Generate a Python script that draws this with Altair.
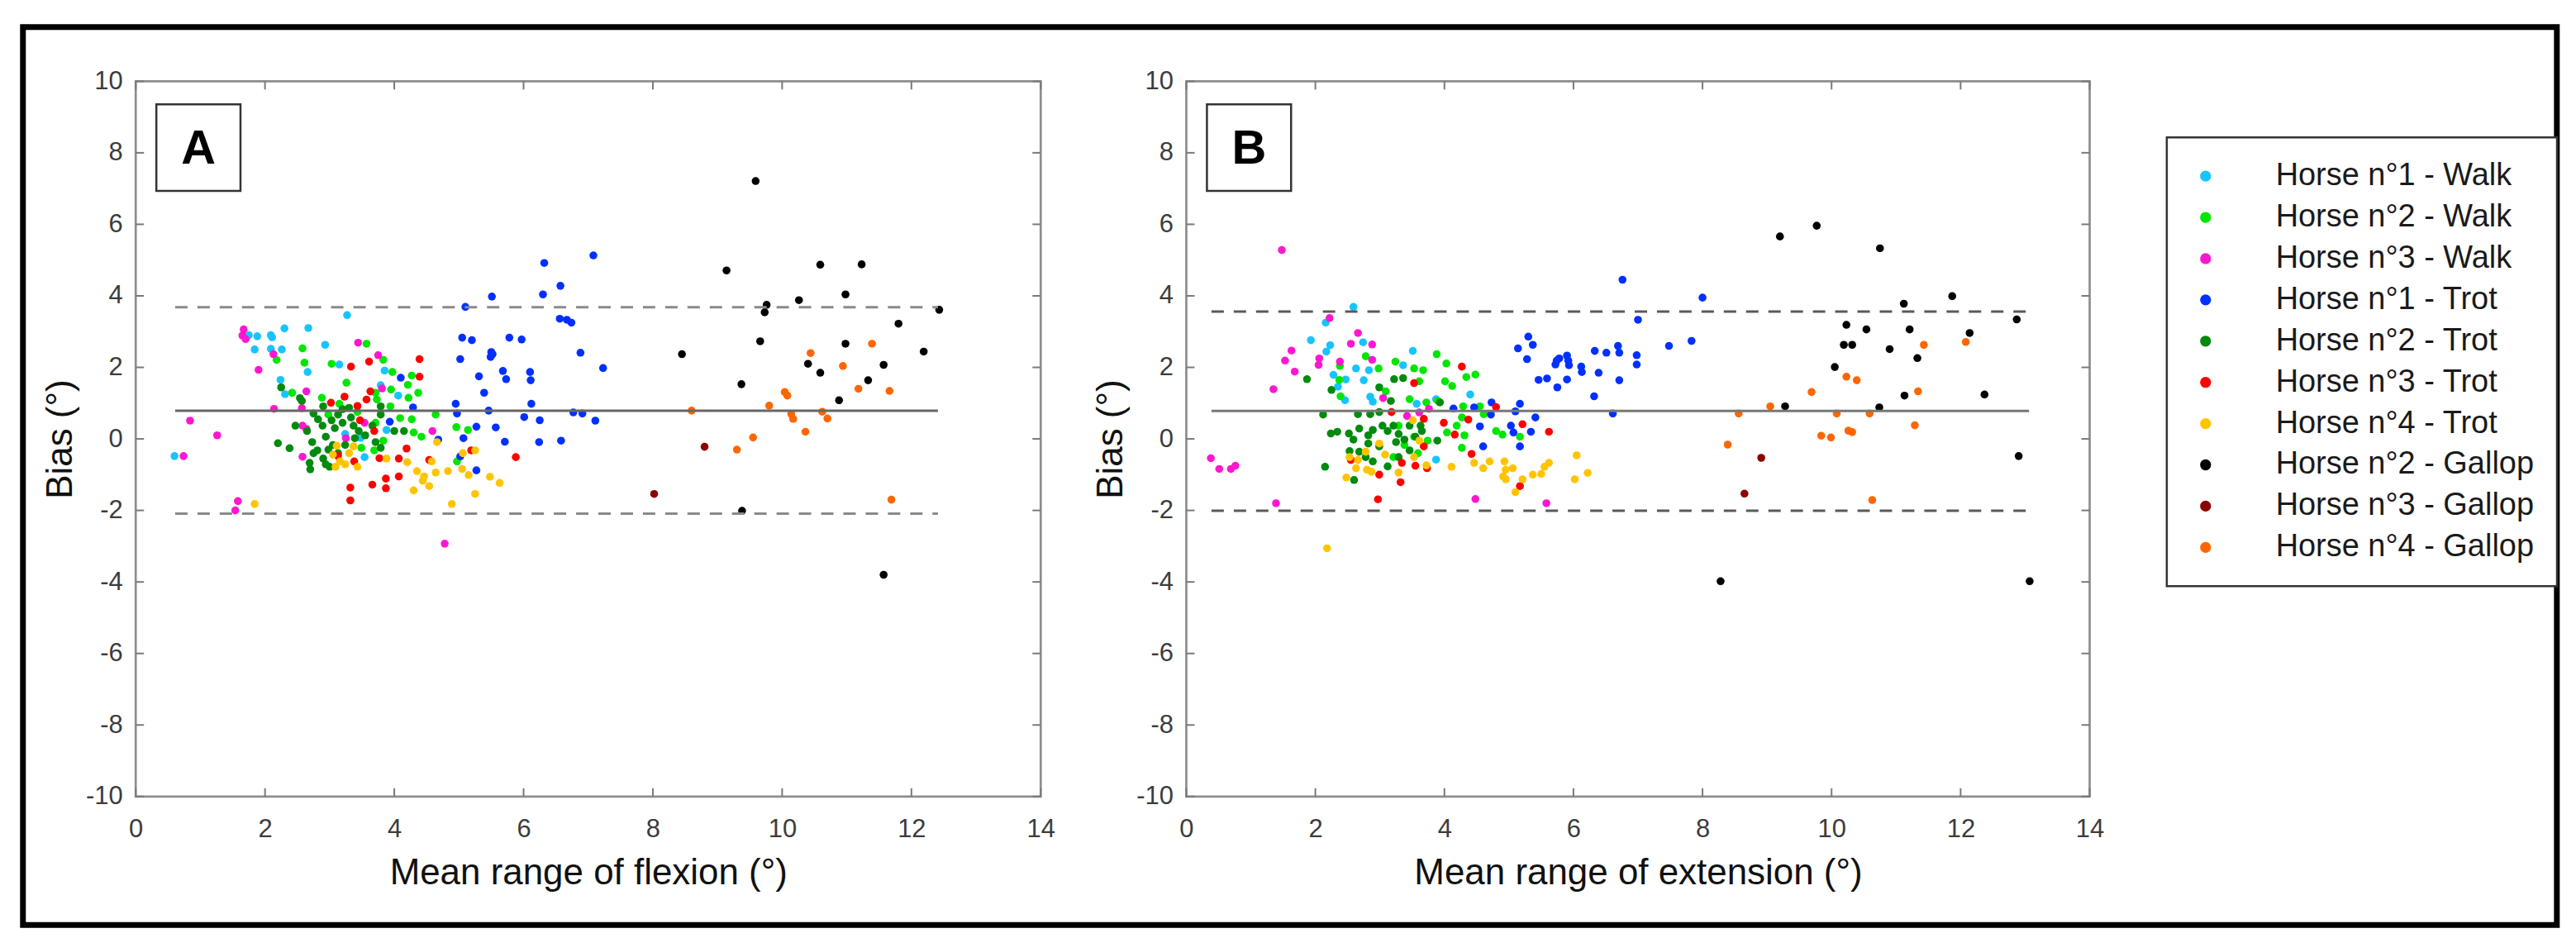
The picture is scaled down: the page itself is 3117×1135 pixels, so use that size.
import altair as alt
import pandas as pd

FONT = "Liberation Sans"

SERIES = [
    "Horse n°1 - Walk", "Horse n°2 - Walk", "Horse n°3 - Walk",
    "Horse n°1 - Trot", "Horse n°2 - Trot", "Horse n°3 - Trot", "Horse n°4 - Trot",
    "Horse n°2 - Gallop", "Horse n°3 - Gallop", "Horse n°4 - Gallop",
]
COLORS = ["#17c4ff", "#00e600", "#ff17cf", "#0030ff", "#008a0e",
          "#ff0000", "#ffc400", "#000000", "#8b0000", "#ff6600"]

X_TICKS = [0, 2, 4, 6, 8, 10, 12, 14]
Y_TICKS = [-10, -8, -6, -4, -2, 0, 2, 4, 6, 8, 10]

PANEL_LABELS = ["A", "B"]
X_TITLES = ["Mean range of flexion (°)", "Mean range of extension (°)"]
MEAN_BIAS = [0.79, 0.78]
UPPER_LOA = [3.68, 3.56]
LOWER_LOA = [-2.09, -2.01]
LINE_START = [0.61, 0.39]
LINE_END = [12.41, 13.06]

# ---------------- Panel A : flexion ----------------
h1_walk_flex_x = [0.60, 1.75, 1.88, 2.09, 2.11, 2.30, 2.67, 1.84, 2.09, 2.26, 2.93, 3.27, 3.15, 2.66, 2.24, 2.31, 3.85, 3.79, 4.06, 3.24, 3.48, 3.54, 3.88]
h1_walk_flex_y = [-0.48, 2.90, 2.87, 2.90, 2.84, 3.09, 3.10, 2.50, 2.52, 2.50, 2.63, 3.46, 2.08, 1.87, 1.65, 1.25, 1.91, 1.50, 1.21, 0.14, 0.03, -0.51, 0.25]

h2_walk_flex_x = [3.57, 2.58, 2.61, 2.18, 3.03, 3.26, 3.83, 3.97, 4.27, 4.21, 4.22, 4.37, 2.42, 2.88, 3.71, 3.73, 3.95, 3.94, 4.09, 4.27, 4.64, 4.96, 5.14, 4.42, 4.30, 3.71, 3.83, 3.49, 3.69, 4.97, 3.15, 2.98, 3.43]
h2_walk_flex_y = [2.66, 2.53, 2.13, 2.21, 2.10, 1.57, 2.21, 1.87, 1.77, 1.51, 1.15, 1.29, 1.29, 1.15, 1.29, 1.10, 1.38, 0.91, 0.58, 0.55, 0.68, 0.33, 0.25, 0.06, 0.18, 0.45, -0.05, -0.25, -0.32, -0.63, 0.98, 0.68, 0.75]

h3_walk_flex_x = [1.67, 1.65, 1.70, 1.90, 2.13, 3.44, 3.75, 2.64, 2.14, 2.57, 0.84, 1.26, 0.74, 1.58, 1.54, 2.58, 2.64, 2.58, 3.81, 3.54, 3.25, 4.59, 4.78]
h3_walk_flex_y = [3.06, 2.89, 2.79, 1.93, 2.37, 2.69, 2.34, 1.33, 0.84, 0.86, 0.51, 0.10, -0.48, -1.74, -2.00, 0.37, 0.28, -0.50, 1.41, 0.45, 0.02, 0.22, -2.93]

h1_trot_flex_x = [6.32, 6.30, 5.51, 5.10, 5.05, 5.20, 5.02, 5.50, 5.49, 5.52, 5.78, 5.97, 5.31, 5.68, 5.73, 6.10, 6.11, 5.39, 4.10, 4.29, 4.95, 4.97, 5.46, 6.12, 6.01, 6.25, 3.93, 5.27, 5.57, 5.07, 5.71, 6.24, 4.68, 5.02, 5.27,
                  7.08, 6.57, 6.56, 6.67, 6.74, 6.88, 7.23, 6.77, 6.91, 7.11, 6.58]
h1_trot_flex_y = [4.92, 4.04, 3.98, 3.69, 2.83, 2.76, 2.23, 2.43, 2.29, 2.37, 2.83, 2.78, 1.75, 1.90, 1.67, 1.87, 1.64, 1.29, 1.71, 0.88, 0.98, 0.71, 0.79, 0.98, 0.61, 0.52, 0.48, 0.34, 0.32, 0.02, -0.08, -0.09, -0.02, -0.49, -0.88,
                  5.13, 4.28, 3.36, 3.33, 3.25, 2.41, 1.98, 0.74, 0.71, 0.51, -0.05]

h2_trot_flex_x = [2.25, 2.54, 2.57, 2.75, 2.90, 3.03, 3.13, 3.20, 3.30, 3.37, 3.45, 2.47, 2.89, 2.73, 2.81, 2.94, 3.05, 2.75, 2.20, 2.38, 2.69, 2.70, 2.90, 2.94, 3.00, 3.79, 3.79, 3.66, 3.71, 3.79, 4.00, 4.15, 3.24, 3.39, 3.13, 2.65, 3.20, 2.82, 3.08, 2.98, 3.33, 3.55]
h2_trot_flex_y = [1.44, 1.14, 1.06, 0.71, 0.91, 0.52, 0.68, 0.45, 0.87, 0.37, 0.22, 0.37, 0.37, -0.09, -0.32, 0.06, -0.17, -0.40, -0.12, -0.26, -0.67, -0.85, -0.55, -0.71, -0.78, 0.91, 0.68, 0.37, -0.09, -0.25, 0.22, 0.22, -0.17, 0.02, -0.40, 0.22, 0.83, 0.55, 0.30, -0.30, 0.60, 0.10]

h3_trot_flex_x = [4.39, 4.39, 3.33, 3.61, 3.63, 3.57, 3.23, 3.02, 3.43, 3.47, 3.69, 3.13, 3.38, 3.77, 4.07, 4.19, 4.54, 5.19, 5.88, 3.32, 3.32, 3.66, 3.87, 3.87, 4.07]
h3_trot_flex_y = [2.23, 1.74, 2.02, 2.16, 1.33, 1.10, 1.18, 1.01, 0.92, 0.52, 0.22, -0.48, -0.63, -0.54, -0.55, -0.27, -0.59, -0.32, -0.51, -1.36, -1.72, -1.28, -1.11, -1.38, -1.05]

h4_trot_flex_x = [1.84, 3.11, 3.05, 3.16, 3.09, 3.24, 3.30, 3.37, 3.43, 3.88, 4.20, 4.35, 4.46, 4.44, 4.30, 4.54, 4.58, 4.64, 4.66, 4.83, 5.06, 5.25, 5.05, 5.15, 5.25, 4.89, 5.48, 5.63]
h4_trot_flex_y = [-1.82, -0.19, -0.44, -0.63, -0.78, -0.71, -0.40, -0.21, -0.78, -0.55, -0.65, -0.90, -1.05, -1.17, -1.44, -1.32, -0.63, -0.94, -0.09, -0.90, -0.40, -0.32, -0.84, -1.01, -1.54, -1.82, -1.06, -1.23]

h2_gallop_flex_x = [9.59, 9.14, 10.59, 11.23, 10.98, 10.26, 9.76, 9.73, 12.43, 11.80, 9.66, 10.98, 8.45, 12.19, 10.40, 10.59, 11.57, 11.33, 9.37, 10.88, 9.38, 11.57]
h2_gallop_flex_y = [7.21, 4.71, 4.87, 4.88, 4.04, 3.88, 3.75, 3.54, 3.61, 3.22, 2.73, 2.66, 2.37, 2.44, 2.10, 1.85, 2.07, 1.64, 1.53, 1.08, -2.01, -3.80]

h3_gallop_flex_x = [8.80, 8.02]
h3_gallop_flex_y = [-0.22, -1.54]

h4_gallop_flex_x = [8.60, 11.39, 10.44, 10.94, 11.18, 11.66, 10.04, 10.08, 9.80, 10.14, 10.17, 10.62, 10.70, 10.36, 9.55, 9.30, 11.69]
h4_gallop_flex_y = [0.79, 2.66, 2.40, 2.04, 1.40, 1.34, 1.31, 1.21, 0.93, 0.70, 0.56, 0.76, 0.57, 0.20, 0.04, -0.30, -1.70]

# ---------------- Panel B : extension ----------------
h1_walk_ext_x = [2.59, 2.16, 1.93, 2.23, 2.17, 2.74, 3.51, 3.36, 2.63, 2.83, 2.28, 2.47, 2.75, 2.35, 2.46, 2.85, 2.89, 3.87, 4.40, 3.57, 3.87]
h1_walk_ext_y = [3.69, 3.25, 2.76, 2.62, 2.44, 2.70, 2.46, 2.06, 1.97, 1.92, 1.79, 1.66, 1.64, 1.46, 1.08, 1.18, 1.04, 1.11, 1.24, 0.98, -0.58]

h2_walk_ext_x = [3.88, 4.03, 3.24, 2.78, 2.98, 2.38, 3.53, 3.67, 3.61, 4.01, 4.12, 4.34, 4.48, 2.37, 2.39, 3.09, 3.46, 3.72, 3.90, 4.29, 4.55, 4.61, 4.27, 4.19, 4.04, 4.31, 4.80, 4.90, 5.17, 4.27, 3.29, 3.53, 3.38, 3.59, 3.21, 3.74]
h2_walk_ext_y = [2.37, 2.11, 2.16, 2.31, 1.97, 2.04, 1.97, 1.92, 1.61, 1.61, 1.48, 1.73, 1.80, 1.65, 1.19, 1.33, 1.11, 1.02, 1.06, 0.91, 0.91, 0.69, 0.60, 0.37, 0.18, 0.10, 0.22, 0.12, 0.06, -0.25, 0.37, 0.06, -0.17, -0.40, -0.51, -0.05]

h3_walk_ext_x = [1.48, 2.22, 2.66, 2.55, 2.88, 1.63, 1.53, 1.68, 2.06, 2.05, 2.38, 2.88, 1.35, 3.05, 3.42, 3.61, 3.76, 0.38, 0.51, 0.69, 0.76, 1.39, 4.48, 5.58]
h3_walk_ext_y = [5.28, 3.38, 2.96, 2.66, 2.64, 2.47, 2.19, 1.88, 2.25, 2.07, 2.16, 2.21, 1.39, 1.14, 0.64, 0.74, 0.84, -0.54, -0.84, -0.84, -0.75, -1.80, -1.68, -1.80]

h1_trot_ext_x = [5.30, 5.37, 5.14, 5.28, 5.74, 5.72, 5.78, 5.90, 5.92, 5.93, 6.12, 6.13, 6.33, 6.39, 5.46, 5.59, 5.90, 5.75, 6.32, 4.73, 5.17, 5.10, 4.14, 4.46, 4.72, 5.41, 4.55, 5.03, 5.07, 5.34, 4.60, 5.17,
                 6.76, 8.00, 7.00, 7.48, 7.83, 6.98, 6.98, 6.69, 6.71, 6.71, 6.61, 6.51]
h1_trot_ext_y = [2.86, 2.63, 2.53, 2.23, 2.19, 2.08, 2.25, 2.33, 2.19, 2.06, 2.02, 1.87, 2.46, 1.85, 1.65, 1.69, 1.66, 1.44, 1.19, 1.02, 0.98, 0.77, 0.85, 0.88, 0.68, 0.60, 0.35, 0.37, 0.18, 0.20, -0.21, -0.21,
                 4.45, 3.95, 3.33, 2.60, 2.74, 2.34, 2.08, 2.60, 2.41, 1.64, 0.71, 2.41]

h2_trot_ext_x = [1.87, 2.25, 2.99, 3.22, 3.36, 2.12, 2.66, 2.85, 2.99, 3.17, 2.24, 2.34, 2.52, 2.59, 2.68, 2.82, 2.89, 3.04, 3.12, 3.21, 3.29, 3.38, 3.25, 3.46, 3.55, 3.63, 3.89, 3.93, 2.82, 2.99, 2.53, 2.68, 2.78, 2.89, 3.12, 3.29, 2.15, 2.60, 3.46, 3.65]
h2_trot_ext_y = [1.67, 1.37, 1.44, 1.67, 1.70, 0.68, 0.69, 0.69, 0.75, 1.06, 0.15, 0.20, 0.15, -0.02, 0.29, 0.10, 0.25, 0.37, 0.22, 0.37, 0.14, -0.02, -0.09, 0.37, 0.06, 0.37, -0.05, 1.02, -0.13, -0.21, -0.34, -0.36, -0.51, -0.63, -0.77, -0.51, -0.78, -1.15, -0.32, 0.22]

h3_trot_ext_x = [4.27, 3.53, 4.80, 3.18, 3.68, 3.99, 4.37, 4.16, 5.21, 5.62, 3.68, 4.42, 3.34, 3.55, 3.73, 2.99, 3.32, 2.97, 5.17, 2.55]
h3_trot_ext_y = [2.02, 1.56, 0.89, 0.75, 0.56, 0.45, 0.54, 0.12, 0.41, 0.20, -0.21, -0.42, -0.67, -0.75, -0.82, -1.00, -1.21, -1.69, -1.32, -0.59]

h4_trot_ext_x = [2.18, 2.48, 2.53, 2.66, 2.78, 2.63, 2.80, 2.87, 2.99, 3.08, 3.29, 3.51, 3.61, 3.53, 3.72, 4.11, 4.46, 4.60, 4.70, 4.93, 4.95, 5.06, 4.91, 4.95, 5.10, 5.21, 5.37, 5.50, 5.55, 5.62, 6.05, 6.02, 6.22]
h4_trot_ext_y = [-3.06, -1.08, -0.51, -0.59, -0.36, -0.82, -0.86, -0.92, -0.13, -0.44, -0.94, 0.52, -0.05, -0.51, -0.74, -0.78, -0.67, -0.82, -0.63, -0.63, -0.86, -0.82, -1.05, -1.13, -1.49, -1.13, -1.00, -0.98, -0.78, -0.67, -0.46, -1.13, -0.95]

h2_gallop_ext_x = [9.20, 9.77, 10.75, 11.87, 11.12, 12.87, 10.23, 10.54, 11.21, 12.14, 10.19, 10.32, 10.90, 11.33, 10.05, 12.37, 11.13, 9.28, 10.74, 12.90, 8.28, 13.07]
h2_gallop_ext_y = [5.66, 5.96, 5.33, 3.99, 3.78, 3.34, 3.19, 3.06, 3.06, 2.96, 2.63, 2.63, 2.51, 2.26, 2.01, 1.24, 1.21, 0.91, 0.88, -0.48, -3.98, -3.98]

h3_gallop_ext_x = [8.91, 8.65]
h3_gallop_ext_y = [-0.53, -1.53]

h4_gallop_ext_x = [8.39, 8.56, 9.05, 9.69, 9.84, 9.99, 10.08, 10.23, 10.39, 10.26, 10.32, 10.59, 10.63, 11.34, 11.29, 11.43, 12.08]
h4_gallop_ext_y = [-0.16, 0.71, 0.91, 1.31, 0.09, 0.04, 0.71, 1.74, 1.64, 0.23, 0.19, 0.71, -1.71, 1.33, 0.38, 2.63, 2.71]

FLEX = [(h1_walk_flex_x, h1_walk_flex_y), (h2_walk_flex_x, h2_walk_flex_y), (h3_walk_flex_x, h3_walk_flex_y),
        (h1_trot_flex_x, h1_trot_flex_y), (h2_trot_flex_x, h2_trot_flex_y), (h3_trot_flex_x, h3_trot_flex_y),
        (h4_trot_flex_x, h4_trot_flex_y), (h2_gallop_flex_x, h2_gallop_flex_y), (h3_gallop_flex_x, h3_gallop_flex_y),
        (h4_gallop_flex_x, h4_gallop_flex_y)]
EXT = [(h1_walk_ext_x, h1_walk_ext_y), (h2_walk_ext_x, h2_walk_ext_y), (h3_walk_ext_x, h3_walk_ext_y),
       (h1_trot_ext_x, h1_trot_ext_y), (h2_trot_ext_x, h2_trot_ext_y), (h3_trot_ext_x, h3_trot_ext_y),
       (h4_trot_ext_x, h4_trot_ext_y), (h2_gallop_ext_x, h2_gallop_ext_y), (h3_gallop_ext_x, h3_gallop_ext_y),
       (h4_gallop_ext_x, h4_gallop_ext_y)]

PANEL_W = [1097, 1095]
PANEL_H = 867
TICK_LEN = 10
BOX_COLOR = "#8e8e8e"
DASH_COLORS = ["#8a8a8a", "#5a5a5a"]
MEAN_COLORS = ["#666666", "#777777"]


def build_panel(i, data):
    W, H = PANEL_W[i], PANEL_H
    rows = []
    for name, (xs_, ys_) in zip(SERIES, data):
        for a, b in zip(xs_, ys_):
            rows.append({"series": name, "x": a, "y": b})
    df = pd.DataFrame(rows)

    xscale = alt.Scale(domain=[0, 14], nice=False, zero=False)
    yscale = alt.Scale(domain=[-10, 10], nice=False, zero=False)
    xaxis = alt.Axis(values=X_TICKS, ticks=False, tickSize=0, domain=False, grid=False,
                     labelFont=FONT, labelFontSize=31, labelColor="#3c3c3c", labelPadding=25,
                     labelFlush=False, labelOverlap=False,
                     title=X_TITLES[i], titleFont=FONT, titleFontSize=44, titleFontWeight="normal",
                     titleColor="#111111", titlePadding=16)
    yaxis = alt.Axis(values=Y_TICKS, ticks=False, tickSize=0, domain=False, grid=False,
                     labelFont=FONT, labelFontSize=31, labelColor="#3c3c3c", labelPadding=16,
                     labelFlush=False, labelOverlap=False, labelExpr="'' + datum.value",
                     title="Bias (°)", titleFont=FONT, titleFontSize=44, titleFontWeight="normal",
                     titleColor="#111111", titlePadding=8)

    def X(f):
        return alt.X(f, type="quantitative", scale=xscale, axis=xaxis)

    def Y(f):
        return alt.Y(f, type="quantitative", scale=yscale, axis=yaxis)

    points = alt.Chart(df).mark_circle(size=92, opacity=1).encode(
        x=X("x"), y=Y("y"),
        color=alt.Color("series:N", scale=alt.Scale(domain=SERIES, range=COLORS),
                        sort=SERIES,
                        legend=alt.Legend(orient="none", legendX=2462, legendY=68, title=None,
                                          labelFont=FONT, labelFontSize=38, labelColor="#1a1a1a",
                                          symbolType="circle", symbolSize=177, symbolStrokeWidth=0,
                                          symbolOpacity=1, strokeColor="#333333", fillColor="white",
                                          padding=28, rowPadding=12, labelOffset=66, labelLimit=700)),
        order=alt.Order("idx:Q"),
    ).transform_calculate(idx="indexof(" + str(SERIES).replace('"', "'") + ", datum.series)")

    mean_df = pd.DataFrame({"x0": [LINE_START[i]], "x1": [LINE_END[i]], "y": [MEAN_BIAS[i]]})
    loa_df = pd.DataFrame({"x0": [LINE_START[i]] * 2, "x1": [LINE_END[i]] * 2,
                           "y": [UPPER_LOA[i], LOWER_LOA[i]]})
    mean_line = alt.Chart(mean_df).mark_rule(color=MEAN_COLORS[i], strokeWidth=3).encode(
        x=X("x0"), x2="x1", y=Y("y"))
    loa_lines = alt.Chart(loa_df).mark_rule(color=DASH_COLORS[i], strokeWidth=3, strokeDash=[15, 12]).encode(
        x=X("x0"), x2="x1", y=Y("y"))

    ytick_df = pd.DataFrame({"v": Y_TICKS})
    xtick_df = pd.DataFrame({"v": X_TICKS})
    tick_style = dict(color="#7a7a7a", strokeWidth=2)
    ticks = [
        alt.Chart(ytick_df).mark_rule(**tick_style).encode(y=Y("v"), x=alt.value(0), x2=alt.value(TICK_LEN)),
        alt.Chart(ytick_df).mark_rule(**tick_style).encode(y=Y("v"), x=alt.value(W - TICK_LEN), x2=alt.value(W)),
        alt.Chart(xtick_df).mark_rule(**tick_style).encode(x=X("v"), y=alt.value(H), y2=alt.value(H - TICK_LEN)),
        alt.Chart(xtick_df).mark_rule(**tick_style).encode(x=X("v"), y=alt.value(0), y2=alt.value(TICK_LEN)),
    ]

    lab_df = pd.DataFrame({"label": [PANEL_LABELS[i]]})
    lab_box = alt.Chart(lab_df).mark_rect(fill="white", stroke="#333333", strokeWidth=2.5).encode(
        x=alt.value(25), x2=alt.value(127), y=alt.value(28), y2=alt.value(133))
    lab_text = alt.Chart(lab_df).mark_text(font=FONT, fontSize=58, fontWeight="bold", color="black",
                                           align="center", baseline="middle").encode(
        text="label:N", x=alt.value(76), y=alt.value(83))

    layers = [points, mean_line, loa_lines] + ticks + [lab_box, lab_text]
    if i == 0:
        border_df = pd.DataFrame({"label": ["frame"]})
        border = alt.Chart(border_df).mark_rect(fill="white", fillOpacity=0, stroke="black", strokeWidth=7).encode(
            x=alt.value(-136.7), x2=alt.value(2934.8), y=alt.value(-65.7), y2=alt.value(1022.8))
        layers = [border] + layers
    return alt.layer(*layers).properties(width=W, height=H)


panel_a = build_panel(0, FLEX)
panel_b = build_panel(1, EXT)

chart = alt.hconcat(panel_a, panel_b, spacing=176.5, bounds="flush").properties(
    padding={"left": 14.5, "top": 18.5, "right": 10, "bottom": 6},
    background="white",
).configure_view(
    stroke=BOX_COLOR, strokeWidth=2.7
).configure_legend(
    strokeWidth=2.5
)

chart.save("out.html", embed_options={"renderer": "svg", "actions": False})
